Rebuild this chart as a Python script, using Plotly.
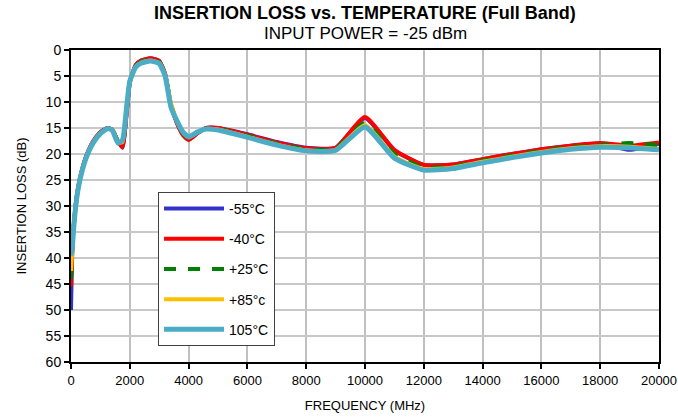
import plotly.graph_objects as go

freq = [0, 50, 100, 200, 300, 500, 750, 1000, 1250, 1400, 1600, 1750, 1900, 2000, 2200,
        2400, 2700, 3000, 3200, 3400, 3600, 3800, 4000, 4300, 4600, 5000, 6000, 7000,
        8000, 9000, 10000, 11000, 12000, 13000, 14000, 15000, 16000, 17000, 18000,
        19000, 20000]

loss_m55 = [50, 37.5, 33.3, 28.0, 24.8, 20.7, 17.6, 15.8, 15.0, 15.3, 17.6, 18.8, 11.8, 6.3, 2.9,
            2.0, 1.6, 2.1, 4.6, 10.6, 14.0, 16.2, 17.2, 16.0, 15.0, 15.0, 16.2, 17.7,
            18.8, 18.8, 13.1, 19.3, 22.1, 22.0, 21.0, 20.0, 19.1, 18.4, 18.0, 19.2, 18.0]
loss_m40 = [45.5, 37.5, 33.3, 28.0, 24.8, 20.7, 17.6, 15.8, 15.0, 15.3, 17.6, 18.7, 11.5, 6.2, 2.9,
            2.0, 1.6, 2.1, 4.6, 10.6, 14.0, 16.3, 17.3, 16.0, 15.0, 15.0, 16.3, 17.8,
            18.9, 18.8, 12.9, 19.2, 22.1, 22.0, 21.0, 20.0, 19.1, 18.4, 17.9, 18.4, 17.8]
loss_p25 = [44.0, 37.5, 33.4, 28.1, 24.9, 20.8, 17.7, 15.9, 15.0, 15.3, 17.7, 18.2, 11.2, 6.1, 3.1,
            2.2, 1.8, 2.3, 4.7, 10.4, 13.8, 16.0, 17.0, 15.9, 15.1, 15.2, 16.5, 18.0,
            19.1, 19.0, 14.0, 20.0, 22.6, 22.4, 21.3, 20.3, 19.4, 18.7, 18.3, 17.9, 18.3]
loss_p85 = [42.5, 37.5, 33.5, 28.2, 25.0, 20.9, 17.8, 16.0, 15.1, 15.4, 17.8, 17.7, 10.8, 6.0, 3.2,
            2.4, 2.0, 2.5, 4.8, 10.2, 13.6, 15.8, 16.8, 15.8, 15.2, 15.3, 16.7, 18.2,
            19.3, 19.2, 14.4, 20.5, 22.9, 22.6, 21.5, 20.5, 19.6, 18.9, 18.5, 18.6, 19.0]
loss_105 = [39.5, 37.5, 33.6, 28.3, 25.1, 21.0, 17.9, 16.1, 15.1, 15.4, 17.9, 17.3, 10.5, 6.0, 3.3,
            2.5, 2.1, 2.6, 5.0, 11.0, 13.6, 15.7, 16.7, 15.8, 15.2, 15.4, 16.8, 18.3,
            19.4, 19.3, 14.8, 20.8, 23.1, 22.8, 21.7, 20.7, 19.8, 19.1, 18.7, 18.8, 19.2]

series_names = ["-55°C", "-40°C", "+25°C", "+85°c", "105°C"]
series_values = [loss_m55, loss_m40, loss_p25, loss_p85, loss_105]
colors = ["#3333cc", "#ff0000", "#008000", "#ffc000", "#4bacc6"]
dashes = ["solid", "solid", "dash", "solid", "solid"]
widths = [4, 4, 4, 4, 5]

x_ticks = list(range(0, 20001, 2000))
y_ticks = list(range(0, 61, 5))

title_text = "INSERTION LOSS vs. TEMPERATURE (Full Band)"
subtitle_text = "INPUT POWER = -25 dBm"

FONT = "Arial, Liberation Sans, sans-serif"

fig = go.Figure()
for i, (name, vals) in enumerate(zip(series_names, series_values)):
    fig.add_trace(go.Scatter(
        x=freq, y=vals, name=name, mode="lines",
        line=dict(color=colors[i], width=widths[i], dash=dashes[i],
                  shape="spline", smoothing=0.5),
        legendgroup=name,
    ))

fig.update_layout(
    width=678, height=418,
    margin=dict(l=71, r=19, t=50, b=56, autoexpand=False),
    paper_bgcolor="white", plot_bgcolor="white",
    font=dict(family=FONT, color="black", size=13),
    showlegend=True,
    legend=dict(
        x=0.148, y=0.545, xanchor="left", yanchor="top",
        bgcolor="white", bordercolor="#404040", borderwidth=1,
        font=dict(size=14, family=FONT, color="black"),
        tracegroupgap=9,
        itemwidth=60,
    ),
    annotations=[
        dict(text="<b>" + title_text + "</b>", xref="paper", yref="paper",
             x=0.5, y=1 + (50 - 13) / 312, xanchor="center", yanchor="middle",
             showarrow=False, font=dict(size=18, family=FONT, color="black")),
        dict(text=subtitle_text, xref="paper", yref="paper",
             x=0.5, y=1 + (50 - 34) / 312, xanchor="center", yanchor="middle",
             showarrow=False, font=dict(size=17, family=FONT, color="black")),
    ],
)

fig.update_xaxes(
    range=[0, 20000], tickvals=x_ticks, ticktext=[str(v) for v in x_ticks],
    showgrid=True, gridcolor="#c0c0c0", gridwidth=2,
    showline=True, linecolor="black", linewidth=2, mirror=True,
    ticks="outside", ticklen=5, tickwidth=2, tickcolor="black",
    tickfont=dict(size=13, family=FONT),
    title=dict(text="FREQUENCY (MHz)", font=dict(size=13, family=FONT), standoff=14),
    zeroline=False, automargin=False,
)
fig.update_yaxes(
    range=[60, 0], tickvals=y_ticks, ticktext=[str(v) for v in y_ticks],
    showgrid=True, gridcolor="#c8c8c8", gridwidth=1.5,
    showline=True, linecolor="black", linewidth=2, mirror=True,
    ticks="outside", ticklen=5, tickwidth=2, tickcolor="black",
    tickfont=dict(size=14, family=FONT),
    title=dict(text="INSERTION LOSS (dB)", font=dict(size=13, family=FONT), standoff=16),
    zeroline=False, automargin=False,
)

fig.write_html("out.html", config={"displayModeBar": False},
               post_script="document.body.style.margin='0';document.body.style.overflow='hidden';")
